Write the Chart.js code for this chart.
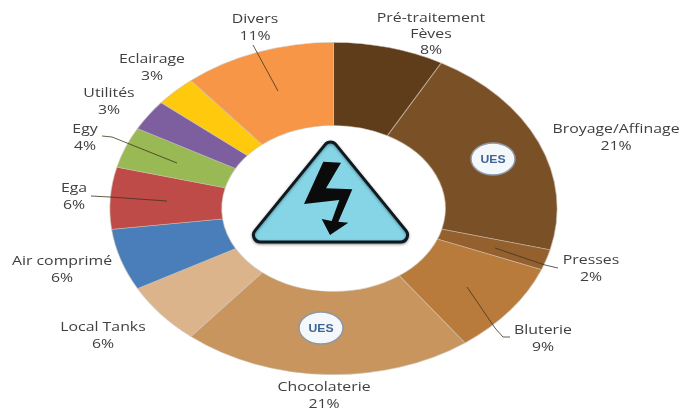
<!DOCTYPE html>
<html>
<head>
<meta charset="utf-8">
<style>
  html, body { margin: 0; padding: 0; background: #fff; }
  canvas { display: block; }
</style>
<script src="https://cdn.jsdelivr.net/npm/chart.js@4"></script>
</head>
<body>
<canvas id="energyChart" width="682" height="409"></canvas>
<script>
// shares, clockwise from 12 o'clock
const categories = ['Pré-traitement Fèves', 'Broyage/Affinage', 'Presses', 'Bluterie', 'Chocolaterie',
  'Local Tanks', 'Air comprimé', 'Ega', 'Egy', 'Utilités', 'Eclairage', 'Divers'];
const shares = [8, 21, 2, 9, 21, 6, 6, 6, 4, 3, 3, 11];
const sliceColors = ['#5f3c1a', '#7a5027', '#94602e', '#b97b3b', '#c8955f', '#dbb48c',
  '#4a7ebb', '#be4b48', '#98b954', '#7d5fa0', '#ffc90e', '#f79646'];

// where each caption sits: [line(s)], centre x, first baseline y
const captions = [
  [['Pré-traitement', 'Fèves'], 431, 21.5],
  [['Broyage/Affinage'], 616, 133],
  [['Presses'], 591, 264],
  [['Bluterie'], 543, 334],
  [['Chocolaterie'], 324, 391],
  [['Local Tanks'], 103, 331],
  [['Air comprimé'], 62, 265],
  [['Ega'], 74, 192],
  [['Egy'], 85, 133],
  [['Utilités'], 109, 97],
  [['Eclairage'], 152, 63],
  [['Divers'], 255, 23]
];
const leaders = [
  [[495, 248], [545, 265], [558, 268]],
  [[467, 287], [495, 328], [503, 337], [510, 337]],
  [[102, 136], [112, 137], [127, 143], [177, 163]],
  [[91, 196], [110, 197], [167, 201]],
  [[253, 45], [278, 91]]
];
const ueBadges = [[493, 159], [321, 328]];

const centerX = 333.5, radiusRatioX = 223.5 / 166;

// the reference donut is stretched sideways, so stretch the context round the slices
const stretchPlugin = {
  id: 'stretch',
  beforeDatasetsDraw(chart) {
    const ctx = chart.ctx;
    ctx.save();
    ctx.translate(centerX, 0);
    ctx.scale(radiusRatioX, 1);
    ctx.translate(-centerX, 0);
  },
  afterDatasetsDraw(chart) {
    chart.ctx.restore();
  }
};

function wideText(ctx, text, x, y) {
  ctx.save();
  ctx.translate(x, y);
  ctx.scale(1.22, 1);
  ctx.fillText(text, 0, 0);
  ctx.restore();
}

function drawWarning(ctx) {
  ctx.save();
  ctx.beginPath();
  ctx.moveTo(330.5, 242);
  ctx.arcTo(245.7, 242, 330.5, 138, 7);
  ctx.arcTo(330.5, 138, 415.3, 242, 7);
  ctx.arcTo(415.3, 242, 330.5, 242, 7);
  ctx.closePath();
  ctx.fillStyle = '#85d5e6';
  ctx.strokeStyle = '#0e1a20';
  ctx.lineWidth = 3;
  ctx.lineJoin = 'round';
  ctx.shadowColor = 'rgba(0, 0, 0, 0.4)';
  ctx.shadowBlur = 3;
  ctx.shadowOffsetY = 1;
  ctx.fill();
  ctx.stroke();
  ctx.shadowColor = 'transparent';
  ctx.beginPath();
  ctx.moveTo(323.3, 161.7);
  ctx.lineTo(341, 162.7);
  ctx.lineTo(326, 188.3);
  ctx.lineTo(352.3, 189.3);
  ctx.lineTo(338.3, 221.7);
  ctx.lineTo(348.3, 222.7);
  ctx.lineTo(330, 235);
  ctx.lineTo(321.7, 219);
  ctx.lineTo(331.7, 221);
  ctx.lineTo(339.3, 200);
  ctx.lineTo(304, 204);
  ctx.closePath();
  ctx.fillStyle = '#0b0b0b';
  ctx.fill();
  ctx.restore();
}

const annotationPlugin = {
  id: 'annotations',
  afterDraw(chart) {
    const ctx = chart.ctx;
    ctx.save();

    ctx.strokeStyle = '#3f3320';
    ctx.lineWidth = 0.8;
    leaders.forEach(points => {
      ctx.beginPath();
      points.forEach((p, i) => i ? ctx.lineTo(p[0], p[1]) : ctx.moveTo(p[0], p[1]));
      ctx.stroke();
    });

    ctx.textAlign = 'center';
    ctx.fillStyle = '#404040';
    ctx.font = '13px "Open Sans"';
    captions.forEach((cap, i) => {
      let y = cap[2];
      cap[0].forEach(line => { wideText(ctx, line, cap[1], y); y += 16; });
      wideText(ctx, shares[i] + '%', cap[1], y + 0.5);
    });

    ueBadges.forEach(p => {
      ctx.beginPath();
      ctx.ellipse(p[0], p[1], 22, 16, 0, 0, Math.PI * 2);
      ctx.fillStyle = '#f5f8fb';
      ctx.fill();
      ctx.strokeStyle = '#8d97a8';
      ctx.lineWidth = 1.5;
      ctx.stroke();
      ctx.fillStyle = '#3f6596';
      ctx.font = 'bold 10px "Liberation Sans"';
      ctx.textBaseline = 'middle';
      wideText(ctx, 'UES', p[0], p[1] + 1);
      ctx.textBaseline = 'alphabetic';
    });

    drawWarning(ctx);
    ctx.restore();
  }
};

new Chart(document.getElementById('energyChart').getContext('2d'), {
  type: 'doughnut',
  plugins: [stretchPlugin, annotationPlugin],
  data: {
    labels: categories,
    datasets: [{
      data: shares,
      backgroundColor: sliceColors,
      borderColor: 'rgba(205, 195, 180, 0.6)',
      borderWidth: 0.8
    }]
  },
  options: {
    responsive: false,
    animation: false,
    cutout: '50%',
    layout: { padding: { left: 110, right: 125, top: 42, bottom: 34 } },
    plugins: { legend: { display: false }, tooltip: { enabled: false } }
  }
});
</script>
</body>
</html>
